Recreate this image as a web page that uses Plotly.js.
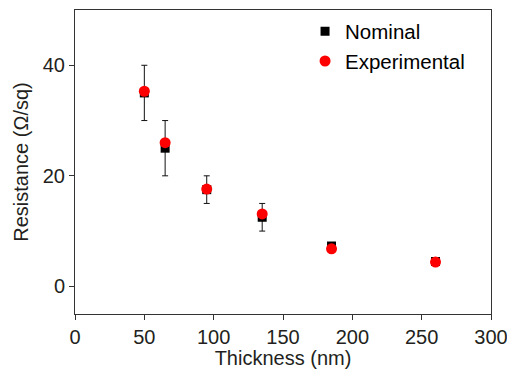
<!DOCTYPE html>
<html>
<head>
<meta charset="utf-8">
<script src="https://cdn.plot.ly/plotly-3.0.1.min.js"></script>
<style>html,body{margin:0;padding:0;background:#fff;}#chart{width:507px;height:369px;}</style>
</head>
<body>
<div id="chart"></div>
<script>
const thickness = [50, 65, 95, 135, 185, 260];
const nominal = [35, 25, 17.5, 12.5, 7.3, 4.5];
const nominalErr = [5, 5, 2.5, 2.5, 0.6, 0.4];
const experimental = [35.3, 26, 17.6, 13.1, 6.8, 4.4];
const xTicks = [0, 50, 100, 150, 200, 250, 300];
const yTicks = [0, 20, 40];

const font = 'Liberation Sans, Arial, sans-serif';
const traces = [
  {
    x: thickness, y: nominal, name: 'Nominal', type: 'scatter', mode: 'markers',
    marker: {symbol: 'square', size: 9, color: '#000'},
    error_y: {type: 'data', array: nominalErr, visible: true, color: '#111', thickness: 1, width: 3}
  },
  {
    x: thickness, y: experimental, name: 'Experimental', type: 'scatter', mode: 'markers',
    marker: {symbol: 'circle', size: 11, color: '#ff0000'}
  }
];
const axisCommon = {
  showgrid: false, zeroline: false, showline: true, mirror: true,
  linecolor: '#333', linewidth: 1, ticks: 'outside', ticklen: 5, tickcolor: '#333',
  ticklabeloverflow: 'allow',
  tickfont: {family: font, size: 20, color: '#231f20'}
};
const layout = {
  width: 507, height: 369,
  margin: {l: 75, r: 16, t: 10, b: 55},
  paper_bgcolor: '#fff', plot_bgcolor: '#fff',
  showlegend: true,
  legend: {x: 0.553, xanchor: 'left', y: 0.995, yanchor: 'top', bgcolor: 'rgba(0,0,0,0)',
           font: {family: font, size: 20.5, color: '#000'}, tracegroupgap: 0},
  xaxis: Object.assign({}, axisCommon, {
    range: [0, 300], tickvals: xTicks, ticktext: xTicks.map(String),
    title: {text: 'Thickness (nm)', font: {family: font, size: 20, color: '#231f20'}, standoff: 4}
  }),
  yaxis: Object.assign({}, axisCommon, {
    range: [-5, 50], tickvals: yTicks, ticktext: yTicks.map(String),
    title: {text: 'Resistance (Ω/sq)', font: {family: font, size: 20, color: '#231f20'}, standoff: 8}
  })
};
Plotly.newPlot('chart', traces, layout, {displayModeBar: false, staticPlot: true});
</script>
</body>
</html>
